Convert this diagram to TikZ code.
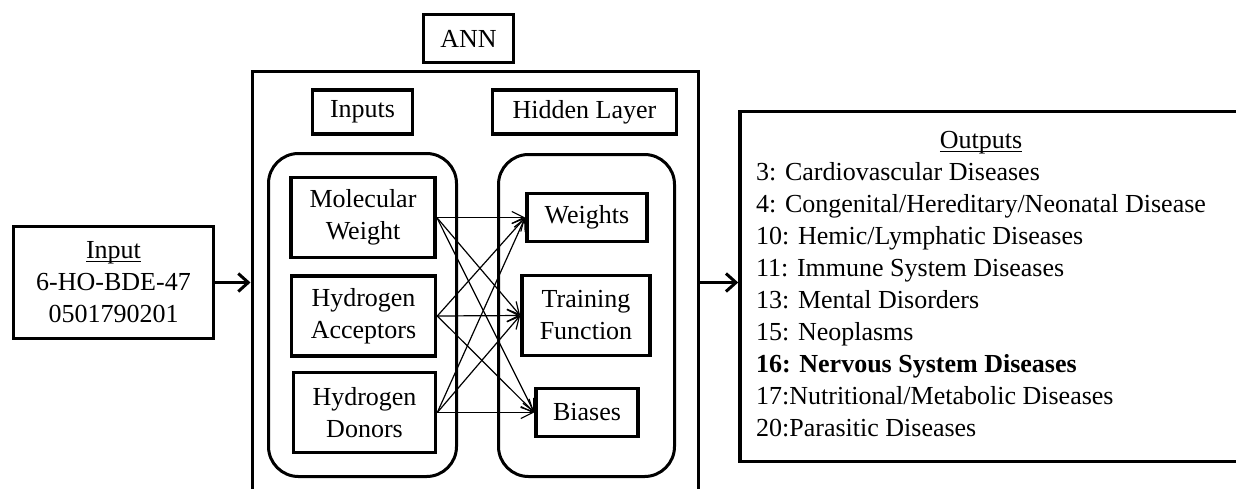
\documentclass[tikz,border=0pt]{standalone}
\usepackage{fontspec}
\setmainfont{Liberation Serif}
\usetikzlibrary{arrows.meta}
\newcommand{\headline}[1]{\underline{\raisebox{0pt}[\height][0pt]{#1}}}
\tikzset{
  box/.style={draw, line width=1.8pt, inner sep=0pt, align=center},
  groupbox/.style={draw, line width=1.5pt, rounded corners=15pt, inner sep=0pt},
  flow/.style={line width=1.5pt, -{Straight Barb[length=5pt,width=9pt]}},
  link/.style={line width=0.6pt, -{Straight Barb[length=6pt,width=6pt]}}
}
\begin{document}
\begin{tikzpicture}[x=0.5pt, y=-0.5pt, font=\fontsize{13}{16}\selectfont]
    \clip (0,0) rectangle (1236,488);
    % Source compound
    \node[box, minimum width=100pt, minimum height=56pt] (input) at (113.5,282.5)
        {\headline{Input}\\6-HO-BDE-47\\0501790201};
    % Network frame
    \node[box, minimum width=45pt, minimum height=24pt] (annlabel) at (468.5,38.5) {ANN};
    \node[draw, line width=1.5pt, minimum width=223pt, minimum height=219pt] (ann) at (475,290.5) {};
    \node[box, minimum width=50pt, minimum height=22pt] (inputslabel) at (362.5,112) {Inputs};
    \node[box, minimum width=92pt, minimum height=22pt] (hiddenlabel) at (584.5,112) {Hidden Layer};
    \node[groupbox, minimum width=94pt, minimum height=161.5pt] (inpgroup) at (362.5,315) {};
    \node[groupbox, minimum width=88pt, minimum height=161pt] (hidgroup) at (586.5,315.5) {};
    % Input features
    \node[box, minimum width=72pt, minimum height=40pt] (mw) at (363,217.5) {Molecular\\Weight};
    \node[box, minimum width=72pt, minimum height=40pt] (ha) at (363.5,316) {Hydrogen\\Acceptors};
    \node[box, minimum width=71pt, minimum height=40pt] (hd) at (364.5,412.5) {Hydrogen\\Donors};
    % Hidden layer parts
    \node[box, minimum width=60pt, minimum height=24pt] (wt) at (587,217.5) {Weights};
    \node[box, minimum width=64pt, minimum height=40pt] (tf) at (586,315.5) {Training\\Function};
    \node[box, minimum width=51pt, minimum height=24pt] (bi) at (587,412.5) {Biases};
    % Fully connected links
    \foreach \src in {mw,ha,hd}
        \foreach \dst in {wt,tf,bi}
            \draw[link] (\src.east) -- (\dst.west);
    % Disease classes
    \node[box, minimum width=252pt, minimum height=175pt] (outputs) at (992,286.5)
        {\begin{tabular}{@{}l@{}}
            \multicolumn{1}{@{}c@{}}{\headline{Outputs}}\\
            3: Cardiovascular Diseases\\
            4: Congenital/Hereditary/Neonatal Disease\\
            10: Hemic/Lymphatic Diseases\\
            11: Immune System Diseases\\
            13: Mental Disorders\\
            15: Neoplasms\\
            \textbf{16: Nervous System Diseases}\\
            17:Nutritional/Metabolic Diseases\\
            20:Parasitic Diseases
        \end{tabular}\hspace*{11pt}};
    % Main flow
    \draw[flow] (input.east) -- (input.east -| ann.west);
    \draw[flow] (input.east -| ann.east) -- (input.east -| outputs.west);
\end{tikzpicture}
\end{document}
